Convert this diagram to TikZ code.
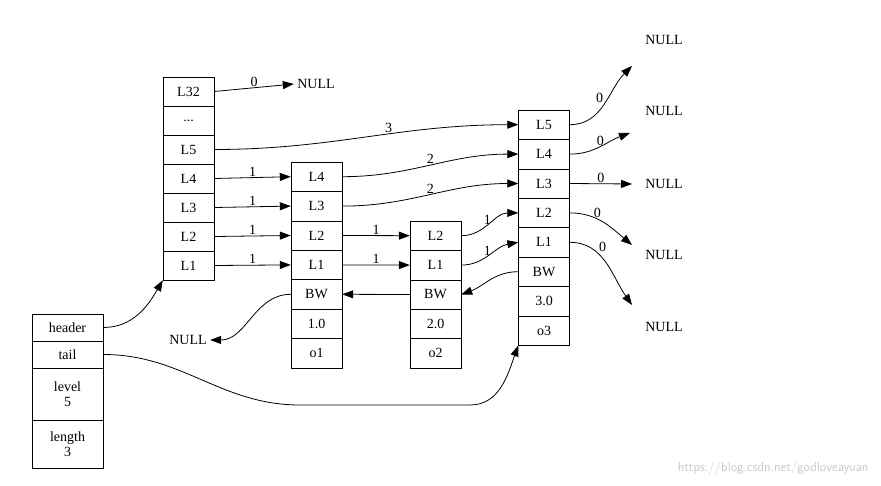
\documentclass[tikz,border=0pt]{standalone}
\usepackage{fontspec}
\setmainfont{Liberation Serif}
\usetikzlibrary{arrows.meta}
\begin{document}
\begin{tikzpicture}[x=1pt,y=-1pt,
  every node/.style={font=\fontsize{14}{15}\selectfont},
  cell/.style={draw,minimum width=51pt,minimum height=29.4pt,inner sep=0pt},
  lcell/.style={draw,minimum width=71pt,inner sep=0pt,align=center},
  arr/.style={-{Triangle[length=11pt,width=8pt]},line width=0.8pt},
  lab/.style={inner sep=1pt}]
\useasboundingbox (0,0) rectangle (881,486);
% header column
\node[cell,minimum height=29pt] (h32) at (188.5,91.5) {L32};
\node[cell,minimum height=29pt] (hd) at (188.5,120.5) {...};
\foreach \t/\n [count=\i from 3] in {L5/h5,L4/h4,L3/h3,L2/h2,L1/h1}
  \node[cell,minimum height=29pt] (\n) at (188.5,{62.5+29*\i}) {\t};
% o1
\foreach \t/\n [count=\i] in {L4/a4,L3/a3,L2/a2,L1/a1,BW/ab,1.0/av,o1/ao}
  \node[cell] (\n) at (316.5,{147.3+29.4*\i}) {\t};
% o2
\foreach \t/\n [count=\i] in {L2/b2,L1/b1,BW/bb,2.0/bv,o2/bo}
  \node[cell] (\n) at (435.5,{206.3+29.4*\i}) {\t};
% o3
\foreach \t/\n [count=\i] in {L5/c5,L4/c4,L3/c3,L2/c2,L1/c1,BW/cb,3.0/cv,o3/co}
  \node[cell] (\n) at (544,{95.3+29.4*\i}) {\t};
% list
\node[lcell,minimum height=27pt] (lh) at (67.5,327.5) {header};
\node[lcell,minimum height=27pt] (lt) at (67.5,354.5) {tail};
\node[lcell,minimum height=52pt] (ll) at (67.5,394) {level\\5};
\node[lcell,minimum height=48pt] (lg) at (67.5,444) {length\\3};
% NULLs
\node (n0) at (316,84) {NULL};
\node (n1) at (664,40) {NULL};
\node (n2) at (664,111) {NULL};
\node (n3) at (664,184) {NULL};
\node (n4) at (664,255) {NULL};
\node (n5) at (664,327) {NULL};
\node (n6) at (188,340) {NULL};
\coordinate (e1) at (632,66);
\coordinate (e2) at (630,133);
\coordinate (e3) at (632,184);
\coordinate (e4) at (632,245);
\coordinate (e5) at (632,305);
% arrows
\draw[arr] (h32.east) -- node[lab,above]{0} (n0.west);
\draw[arr] (h5.east) to[out=0,in=180] node[lab,above,pos=0.58]{3} (c5.west);
\draw[arr] (h4.east) -- node[lab,above]{1} (a4.west);
\draw[arr] (h3.east) -- node[lab,above]{1} (a3.west);
\draw[arr] (h2.east) -- node[lab,above]{1} (a2.west);
\draw[arr] (h1.east) -- node[lab,above]{1} (a1.west);
\draw[arr] (a4.east) to[out=0,in=180] node[lab,above]{2} (c4.west);
\draw[arr] (a3.east) to[out=0,in=180] node[lab,above]{2} (c3.west);
\draw[arr] (a2.east) -- node[lab,above]{1} (b2.west);
\draw[arr] (a1.east) -- node[lab,above]{1} (b1.west);
\draw[arr] (b2.east) to[out=0,in=180] node[lab,above,pos=0.45]{1} (c2.west);
\draw[arr] (b1.east) to[out=0,in=190] node[lab,above,pos=0.45]{1} (c1.west);
\draw[arr] (cb.west) to[out=180,in=20] (bb.east);
\draw[arr] (bb.west) -- (ab.east);
\draw[arr] (ab.west) to[out=180,in=0] (n6.east);
\draw[arr] (c5.east) to[out=0,in=225] node[lab,above left,pos=0.5]{0} (e1);
\draw[arr] (c4.east) to[out=0,in=200] node[lab,above,pos=0.5]{0} (e2);
\draw[arr] (c3.east) -- node[lab,above]{0} (e3);
\draw[arr] (c2.east) to[out=0,in=140] node[lab,above,pos=0.4]{0} (e4);
\draw[arr] (c1.east) to[out=0,in=125] node[lab,above right,pos=0.35]{0} (e5);
\draw[arr] (lh.east) to[out=0,in=240] (h1.south west);
\draw[arr] (lt.east) to[out=0,in=180] (300,405) -- (470,405) to[out=0,in=250] (co.south west);
\node[text=black!22,font=\fontsize{13}{14}\selectfont\sffamily,anchor=east] (wm) at (872,468) {https://blog.csdn.net/godloveayuan};
\end{tikzpicture}
\end{document}
